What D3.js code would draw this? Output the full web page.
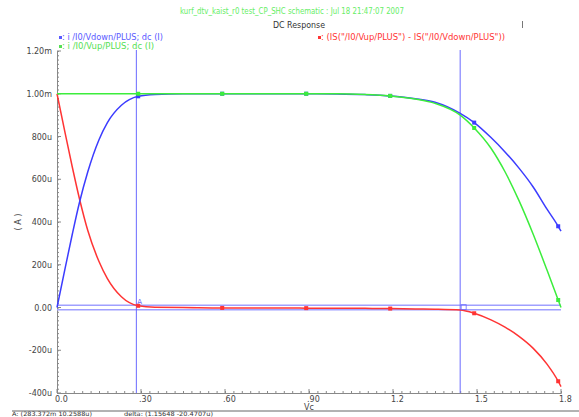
<!DOCTYPE html>
<html>
<head>
<meta charset="utf-8">
<script src="https://cdn.jsdelivr.net/npm/d3@7"></script>
<style>
  body { margin: 0; background: #fff; }
  svg { display: block; }
  text { font-family: "DejaVu Sans", sans-serif; }
</style>
</head>
<body>
<svg id="chart" width="579" height="417"></svg>
<script>
// sweep values (V) and currents (mA, scaled to A below)
const vc = [0, 0.03, 0.055, 0.08, 0.11, 0.15, 0.18, 0.23, 0.29, 0.35, 0.45, 0.59, 0.75, 0.89, 1.0, 1.1, 1.19, 1.28, 1.35, 1.44, 1.49, 1.55, 1.6, 1.65, 1.7, 1.75, 1.79, 1.8];
const iDown = [0, 0.19, 0.345, 0.49, 0.635, 0.785, 0.865, 0.946, 0.988, 0.997, 1.0, 1.0, 1.0, 1.0, 0.999, 0.996, 0.99, 0.977, 0.96, 0.908, 0.865, 0.795, 0.728, 0.652, 0.565, 0.46, 0.38, 0.357].map(v => v * 1e-3);
const iUp = [1.0, 1.0, 1.0, 1.0, 1.0, 1.0, 1.0, 1.0, 1.0, 1.0, 1.0, 1.0, 1.0, 1.0, 1.0, 0.997, 0.99, 0.975, 0.955, 0.9, 0.84, 0.745, 0.635, 0.5, 0.345, 0.175, 0.035, 0.0].map(v => v * 1e-3);
const iDiff = [1.0, 0.81, 0.655, 0.51, 0.36, 0.215, 0.135, 0.05, 0.008, 0.001, 0.0, -0.002, -0.002, -0.003, -0.003, -0.004, -0.005, -0.007, -0.008, -0.012, -0.027, -0.058, -0.092, -0.135, -0.19, -0.265, -0.345, -0.37].map(v => v * 1e-3);
const markerVc = [0.29, 0.59, 0.89, 1.19, 1.49, 1.79];

const xTicks = [0, 0.3, 0.6, 0.9, 1.2, 1.5, 1.8];
const xTickLabels = ["0.0", ".30", ".60", ".90", "1.2", "1.5", "1.8"];
const yTicks = [-400e-6, -200e-6, 0, 200e-6, 400e-6, 600e-6, 800e-6, 1e-3, 1.2e-3];
const yTickLabels = ["-400u", "-200u", "0.00", "200u", "400u", "600u", "800u", "1.00m", "1.20m"];

// cursors A and B
const cursorA = {x: 0.283372, y: 10.2588e-6};
const cursorB = {x: 0.283372 + 1.15648, y: 10.2588e-6 - 20.4707e-6};

const svg = d3.select("#chart");
const x = d3.scaleLinear().domain([0, 1.8]).range([57, 561]);
const y = d3.scaleLinear().domain([-400e-6, 1.2e-3]).range([393, 51]);

const BLUE = "#3c3cff", GREEN = "#3ced3c", RED = "#ff3434";

// headings
svg.append("text").attr("x", 180).attr("y", 14).attr("fill", "#66ee66")
  .attr("font-size", 8).attr("textLength", 224).attr("lengthAdjust", "spacingAndGlyphs")
  .text("kurf_dtv_kaist_r0 test_CP_SHC schematic : Jul 18 21:47:07 2007");
svg.append("text").attr("x", 273).attr("y", 28).attr("fill", "#333")
  .attr("font-size", 8).attr("textLength", 52).attr("lengthAdjust", "spacingAndGlyphs")
  .text("DC Response");
svg.append("rect").attr("x", 522).attr("y", 21).attr("width", 1).attr("height", 7).attr("fill", "#777");

// legend
const legend = [
  {label: ": i /I0/Vdown/PLUS; dc (I)", color: "#5a5aff", x: 59, y: 40, w: 104},
  {label: ": i /I0/Vup/PLUS; dc (I)", color: "#55e055", x: 59, y: 49, w: 95},
  {label: ": (IS(\"/I0/Vup/PLUS\") - IS(\"/I0/Vdown/PLUS\"))", color: RED, x: 318, y: 40, w: 187}
];
const lg = svg.selectAll("g.leg").data(legend).join("g").attr("class", "leg");
lg.append("rect").attr("x", d => d.x).attr("y", d => d.y - 4).attr("width", 3).attr("height", 3).attr("fill", d => d.color);
lg.append("text").attr("x", d => d.x + 3).attr("y", d => d.y).attr("fill", d => d.color)
  .attr("font-size", 8).attr("textLength", d => d.w - 3).attr("lengthAdjust", "spacingAndGlyphs")
  .text(d => d.label);

// axes
const axisCol = "#888";
const yAxis = svg.append("g").attr("transform", `translate(${x(0)},0)`)
  .call(d3.axisRight(y).tickValues(d3.range(-400e-6, 1.2e-3 + 1e-9, 20e-6)).tickSize(2).tickFormat(""));
yAxis.select(".domain").attr("stroke", axisCol);
yAxis.selectAll(".tick line").attr("stroke", axisCol);
svg.append("g").selectAll("line").data(yTicks).join("line")
  .attr("x1", x(0)).attr("x2", x(0) + 4).attr("y1", d => y(d)).attr("y2", d => y(d)).attr("stroke", axisCol);
svg.append("g").selectAll("text").data(yTicks).join("text")
  .attr("x", 52).attr("y", d => y(d) + 3).attr("text-anchor", "end")
  .attr("font-family", "DejaVu Sans Mono, monospace").attr("font-size", 8).attr("fill", "#444")
  .text((d, i) => yTickLabels[i]);

const xAxis = svg.append("g").attr("transform", `translate(0,${y(-400e-6)})`)
  .call(d3.axisTop(x).tickValues(d3.range(0, 1.8 + 1e-9, 0.03)).tickSize(2).tickFormat(""));
xAxis.select(".domain").attr("stroke", axisCol);
xAxis.selectAll(".tick line").attr("stroke", axisCol);
svg.append("g").selectAll("line").data(xTicks).join("line")
  .attr("x1", d => x(d)).attr("x2", d => x(d)).attr("y1", 393).attr("y2", 389).attr("stroke", axisCol);
svg.append("g").selectAll("text").data(xTicks).join("text")
  .attr("x", d => x(d) - 2).attr("y", 402)
  .attr("font-family", "DejaVu Sans Mono, monospace").attr("font-size", 8).attr("fill", "#444")
  .text((d, i) => xTickLabels[i]);
svg.append("text").attr("x", 304).attr("y", 410).attr("font-size", 8).attr("fill", "#444").text("Vc");
svg.append("text").attr("transform", "translate(21,222) rotate(-90)").attr("text-anchor", "middle")
  .attr("font-size", 8).attr("fill", "#444").text("( A )");

// cursor lines
svg.append("g").selectAll("line").data([cursorA, cursorB]).join("line")
  .attr("x1", 57).attr("x2", 561).attr("y1", d => y(d.y)).attr("y2", d => y(d.y))
  .attr("stroke", "#a0a0ff").attr("stroke-width", 1.6);
svg.append("g").selectAll("line").data([cursorA, cursorB]).join("line")
  .attr("x1", d => x(d.x)).attr("x2", d => x(d.x)).attr("y1", 50).attr("y2", 393)
  .attr("stroke", "#6a6aff").attr("stroke-width", 1);

// curves
const series = [
  {vals: iDiff, color: RED},
  {vals: iDown, color: BLUE},
  {vals: iUp, color: GREEN}
];
const line = d3.line().x(d => x(d[0])).y(d => y(d[1])).curve(d3.curveMonotoneX);
series.forEach(s => {
  const pts = vc.map((v, i) => [v, s.vals[i]]);
  svg.append("path").datum(pts).attr("d", line).attr("fill", "none")
    .attr("stroke", s.color).attr("stroke-width", 1.5);
  svg.append("g").selectAll("rect").data(pts.filter(p => markerVc.includes(p[0]))).join("rect")
    .attr("x", p => x(p[0]) - 2).attr("y", p => y(p[1]) - 2).attr("width", 4).attr("height", 4)
    .attr("fill", s.color);
});

// cursor tags
svg.append("text").attr("x", x(cursorA.x) + 1).attr("y", y(cursorA.y) - 1)
  .attr("font-size", 7).attr("fill", "#6a6aff").text("A");
svg.append("rect").attr("x", x(cursorB.x) + 1).attr("y", y(cursorB.y) - 5).attr("width", 5).attr("height", 5)
  .attr("fill", "none").attr("stroke", "#6a6aff").attr("stroke-width", 0.8);

// readout strip
svg.append("line").attr("x1", 12).attr("x2", 579).attr("y1", 411).attr("y2", 411).attr("stroke", "#666");
svg.append("text").attr("x", 12).attr("y", 416).attr("font-size", 6).attr("fill", "#333")
  .attr("textLength", 80).attr("lengthAdjust", "spacingAndGlyphs").text("A: (283.372m 10.2588u)");
svg.append("text").attr("x", 124).attr("y", 416).attr("font-size", 6).attr("fill", "#333")
  .attr("textLength", 89).attr("lengthAdjust", "spacingAndGlyphs").text("delta: (1.15648 -20.4707u)");
</script>
</body>
</html>
